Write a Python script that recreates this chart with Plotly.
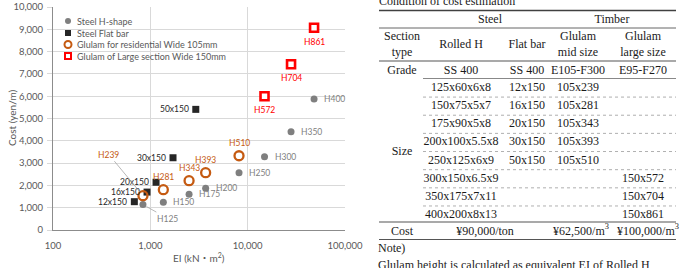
import math
import plotly.graph_objects as go

# ---------------- data ----------------
hshape_labels = ["H125", "H150", "H175", "H200", "H250", "H300", "H350", "H400"]
hshape_ei = [840, 1360, 2500, 3700, 8150, 14900, 27900, 48100]
hshape_cost = [1140, 1240, 1600, 1870, 2570, 3290, 4410, 5870]

flat_labels = ["12x150", "16x150", "20x150", "30x150", "50x150"]
flat_ei = [685, 925, 1145, 1710, 2930]
flat_cost = [1270, 1700, 2140, 3240, 5410]

res_labels = ["H239", "H281", "H343", "H393", "H510"]
res_ei = [840, 1360, 2500, 3700, 8150]
res_cost = [1540, 1810, 2210, 2570, 3330]

large_labels = ["H572", "H704", "H861"]
large_ei = [14900, 27900, 48100]
large_cost = [6000, 7430, 9070]

series_names = ["Steel H-shape", "Steel Flat bar",
                "Glulam for residential Wide 105mm",
                "Glulam of Large section Wide 150mm"]

x_tickvals = [100, 1000, 10000, 100000]
x_ticktext = ["100", "1,000", "10,000", "100,000"]

# table contents
table_title = "Condition of cost estimation"
group_headers = ["Steel", "Timber"]
col_headers = ["Section<br>type", "Rolled H", "Flat bar", "Glulam<br>mid size", "Glulam<br>large size"]
grade_row = ["Grade", "SS 400", "SS 400", "E105-F300", "E95-F270"]
size_label = "Size"
rolled_h_sizes = ["125x60x6x8", "150x75x5x7", "175x90x5x8", "200x100x5.5x8",
                  "250x125x6x9", "300x150x6.5x9", "350x175x7x11", "400x200x8x13"]
flat_sizes = ["12x150", "16x150", "20x150", "30x150", "50x150", "", "", ""]
glulam_mid_sizes = ["105x239", "105x281", "105x343", "105x393", "105x510", "", "", ""]
glulam_large_sizes = ["", "", "", "", "", "150x572", "150x704", "150x861"]
cost_row = ["Cost", "¥90,000/ton", "¥62,500/m<sup>3</sup>", "¥100,000/m<sup>3</sup>"]
note_lines = ["Note)", "Glulam height is calculated as equivalent EI of Rolled H"]

# ---------------- styles / layout geometry ----------------
W, H = 693, 268
def PX(x): return x / W
def PY(y): return 1 - y / H

CHART_FONT = "Lato, 'Noto Sans CJK JP', sans-serif"
SERIF = "'Liberation Serif', 'Times New Roman', serif"
GRAY_M = "#7f7f7f"
BLACK_M = "#262626"
ORANGE = "#c55a11"
RED = "#ff0000"
TXT = "#595959"

fig = go.Figure()

fig.add_trace(go.Scatter(x=hshape_ei, y=hshape_cost, mode="markers", name=series_names[0],
                         marker=dict(symbol="circle", size=7, color=GRAY_M), showlegend=False))
fig.add_trace(go.Scatter(x=flat_ei, y=flat_cost, mode="markers", name=series_names[1],
                         marker=dict(symbol="square", size=7, color=BLACK_M), showlegend=False))
fig.add_trace(go.Scatter(x=res_ei, y=res_cost, mode="markers", name=series_names[2],
                         marker=dict(symbol="circle-open", size=9, color=ORANGE, line=dict(width=2.3)),
                         showlegend=False))
fig.add_trace(go.Scatter(x=large_ei, y=large_cost, mode="markers", name=series_names[3],
                         marker=dict(symbol="square", size=8, color="white", line=dict(color=RED, width=2.6)),
                         showlegend=False))

ann = []
LBL = 8.5
for lab, xv, yv in zip(hshape_labels, hshape_ei, hshape_cost):
    if lab == "H125":
        ann.append(dict(x=math.log10(xv), y=yv, xref="x", yref="y", text=lab, showarrow=True,
                        arrowhead=0, arrowwidth=0.8, arrowcolor="#a6a6a6", ax=25, ay=14, standoff=4,
                        font=dict(family=CHART_FONT, size=LBL, color=GRAY_M)))
    else:
        ann.append(dict(x=math.log10(xv), y=yv, xref="x", yref="y", text=lab, showarrow=False,
                        xanchor="left", xshift=8, yshift=0,
                        font=dict(family=CHART_FONT, size=LBL, color=GRAY_M)))
for lab, xv, yv in zip(flat_labels, flat_ei, flat_cost):
    ann.append(dict(x=math.log10(xv), y=yv, xref="x", yref="y", text=lab, showarrow=False,
                    xanchor="right", xshift=-5,
                    font=dict(family=CHART_FONT, size=LBL, color=BLACK_M)))
for lab, xv, yv in zip(res_labels, res_ei, res_cost):
    if lab == "H239":
        ann.append(dict(x=math.log10(xv), y=yv, xref="x", yref="y", text=lab, showarrow=True,
                        arrowhead=0, arrowwidth=0.8, arrowcolor="#a6a6a6", ax=-34, ay=-41, standoff=5,
                        font=dict(family=CHART_FONT, size=LBL, color=ORANGE)))
    else:
        ann.append(dict(x=math.log10(xv), y=yv, xref="x", yref="y", text=lab, showarrow=False,
                        yanchor="bottom", yshift=6,
                        font=dict(family=CHART_FONT, size=LBL, color=ORANGE)))
for lab, xv, yv in zip(large_labels, large_ei, large_cost):
    ann.append(dict(x=math.log10(xv), y=yv, xref="x", yref="y", text=lab, showarrow=False,
                    yanchor="top", yshift=-7,
                    font=dict(family=CHART_FONT, size=LBL, color=RED)))

ann.append(dict(x=PX(12), y=PY(118), xref="paper", yref="paper", text="Cost (yen/m)", textangle=-90,
                xanchor="center", yanchor="middle",
                showarrow=False, font=dict(family=CHART_FONT, size=10, color=TXT)))
ann.append(dict(x=PX(199), y=PY(257), xref="paper", yref="paper", text="EI (kN・m<sup>2</sup>)",
                xanchor="center", yanchor="middle",
                showarrow=False, font=dict(family=CHART_FONT, size=10, color=TXT)))

# custom legend in pixel-unit overlay axis
leg_y = [21, 33, 44.5, 56]
leg_x = 68
leg_styles = [dict(symbol="circle", size=6, color=GRAY_M),
              dict(symbol="square", size=6, color=BLACK_M),
              dict(symbol="circle-open", size=7, color=ORANGE, line=dict(width=2)),
              dict(symbol="square", size=6, color="white", line=dict(color=RED, width=2))]
for nm, yy, st in zip(series_names, leg_y, leg_styles):
    fig.add_trace(go.Scatter(x=[leg_x], y=[yy], xaxis="x2", yaxis="y2", mode="markers",
                             marker=st, showlegend=False, hoverinfo="skip"))
    ann.append(dict(x=leg_x + 7, y=yy, xref="x2", yref="y2", text=nm, showarrow=False,
                    xanchor="left", yanchor="middle", font=dict(family=CHART_FONT, size=9, color=TXT)))

# ---------------- table (text traces in pixel-unit overlay axis) ----------------
col_x = [402, 461, 527, 578, 643]
tc_x, tc_y, tc_t = [], [], []   # centered
tl_x, tl_y, tl_t = [], [], []   # left aligned
def tcell(x, y, text):
    tc_x.append(x); tc_y.append(y); tc_t.append(text)
def tleft(x, y, text):
    tl_x.append(x); tl_y.append(y); tl_t.append(text)

tleft(379, 2, table_title)
tcell(490, 20, group_headers[0])
tcell(612, 20, group_headers[1])
for cx, t in zip(col_x, col_headers):
    tcell(cx, 45, t)
for cx, t in zip(col_x, grade_row):
    tcell(cx, 70.5, t)
size_y0, size_dy = 88, 18.15
for i in range(len(rolled_h_sizes)):
    yy = size_y0 + i * size_dy
    for cx, col in zip(col_x[1:], [rolled_h_sizes, flat_sizes, glulam_mid_sizes, glulam_large_sizes]):
        if col[i]:
            tcell(cx, yy, col[i])
tcell(col_x[0], size_y0 + (len(rolled_h_sizes) - 1) * size_dy / 2, size_label)
tcell(col_x[0], 231.5, cost_row[0])
tcell(485, 231.5, cost_row[1])
tcell(581, 231.5, cost_row[2])
tcell(648, 231.5, cost_row[3])
tleft(378, 249, note_lines[0])
tleft(378, 266, note_lines[1])

TF = dict(family=SERIF, size=12, color="#1a1a1a")
fig.add_trace(go.Scatter(x=tc_x, y=tc_y, text=tc_t, mode="text", textposition="middle center",
                         textfont=TF, xaxis="x2", yaxis="y2", showlegend=False, hoverinfo="skip"))
fig.add_trace(go.Scatter(x=tl_x, y=tl_y, text=tl_t, mode="text", textposition="middle right",
                         textfont=TF, xaxis="x2", yaxis="y2", showlegend=False, hoverinfo="skip"))

shapes = []
TL, TR = 379, 676
def hline(y, x0=TL, x1=TR, color="#404040", width=1.2, dash="solid"):
    shapes.append(dict(type="line", xref="x2", yref="y2", x0=x0, x1=x1,
                       y0=y, y1=y, line=dict(color=color, width=width, dash=dash)))
hline(10.5, width=1.6)
hline(28, color="#666666", width=1)
hline(61, color="#555555", width=1.2)
hline(78.5, x0=423, color="#888888", width=1)
for i in range(len(rolled_h_sizes) - 1):
    hline(size_y0 + (i + 0.5) * size_dy, x0=423, color="#9a9a9a", width=0.8, dash="dot")
hline(222, color="#555555", width=1.2)
hline(239.5, color="#555555", width=1.2)

fig.update_layout(
    width=W, height=H, margin=dict(l=0, r=0, t=0, b=0, autoexpand=False),
    paper_bgcolor="white", plot_bgcolor="rgba(0,0,0,0)",
    font=dict(family=CHART_FONT, color=TXT),
    showlegend=False,
    annotations=ann, shapes=shapes,
    xaxis=dict(type="log", range=[2, 5], domain=[PX(53), PX(345)],
               tickvals=x_tickvals, ticktext=x_ticktext,
               showgrid=True, gridcolor="#d9d9d9", gridwidth=1,
               showline=True, linecolor="#8c8c8c", linewidth=1, zeroline=False,
               ticks="", ticklabelstandoff=7, automargin=False,
               tickfont=dict(family=CHART_FONT, size=9.5, color=TXT), anchor="y"),
    yaxis=dict(range=[0, 10000], dtick=1000, tickformat=",", domain=[PY(230), PY(7)],
               showgrid=True, gridcolor="#d9d9d9", gridwidth=1,
               showline=True, linecolor="#8c8c8c", linewidth=1, zeroline=False,
               ticks="outside", ticklen=5, tickcolor="#d9d9d9", ticklabelstandoff=2, automargin=False,
               tickfont=dict(family=CHART_FONT, size=9.5, color=TXT), anchor="x"),
    xaxis2=dict(range=[0, W], domain=[0, 1], visible=False, anchor="y2", fixedrange=True, automargin=False),
    yaxis2=dict(range=[H, 0], domain=[0, 1], visible=False, anchor="x2", fixedrange=True, automargin=False),
)

fig.write_html("out.html")
